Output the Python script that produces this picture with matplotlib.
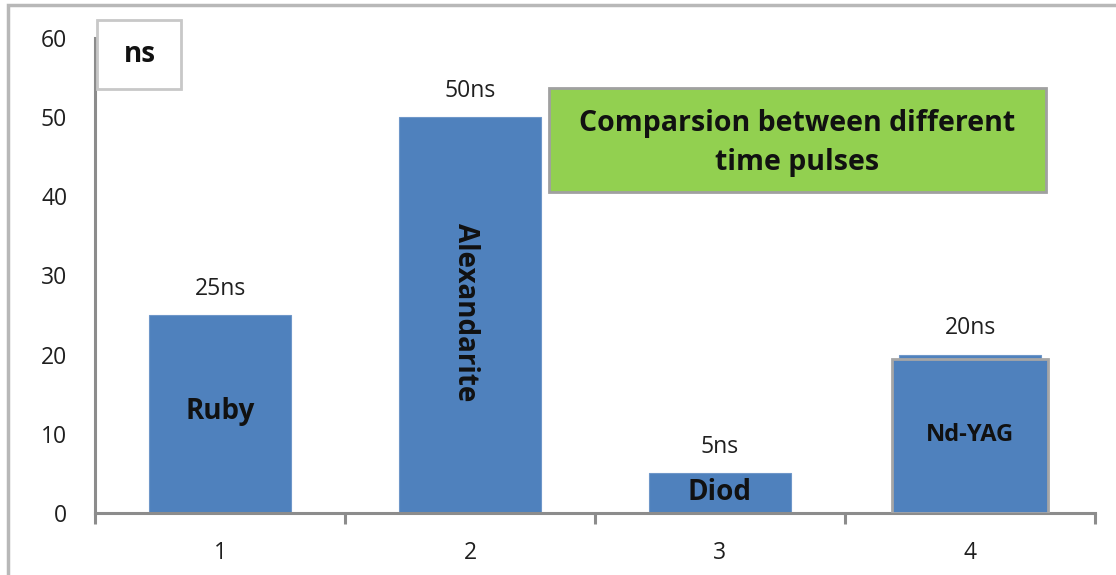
import matplotlib.pyplot as plt
from matplotlib.patches import Rectangle

# data
positions = [1, 2, 3, 4]
values = [25, 50, 5, 20]
value_labels = ['25ns', '50ns', '5ns', '20ns']
names = ['Ruby', 'Alexandarite', 'Diod', 'Nd-YAG']
yticks = [0, 10, 20, 30, 40, 50, 60]

plt.rcParams['font.family'] = ['Open Sans', 'DejaVu Sans']

W, H = 1116, 575
fig = plt.figure(figsize=(W / 100, H / 100), dpi=100)

# outer chart frame
fig.patches.append(Rectangle((8 / W, 0 - 0.1), 1.2, 1 - 5 / H + 0.1,
                             transform=fig.transFigure, fill=False,
                             edgecolor='#b8b8b8', linewidth=2.5))

ax = fig.add_axes([95 / W, (H - 513) / H, 1000 / W, (513 - 38) / H])
ax.bar(positions, values, width=0.57, color='#4f81bd', edgecolor='#6f97c9',
       linewidth=0.8, zorder=2)
ax.set_xlim(0.5, 4.5)
ax.set_ylim(0, 60)

for s in ['top', 'right']:
    ax.spines[s].set_visible(False)
for s in ['left', 'bottom']:
    ax.spines[s].set_color('#8c8c8c')
    ax.spines[s].set_linewidth(2.2)

ax.set_yticks(yticks)
ax.tick_params(axis='y', length=0, pad=20, labelsize=16.5, labelcolor='#1f1f1f')
ax.set_xticks([0.5, 1.5, 2.5, 3.5, 4.5])
ax.set_xticklabels([])
ax.tick_params(axis='x', which='major', length=8, width=2.2, color='#8c8c8c')
ax.set_xticks(positions, minor=True)
ax.set_xticklabels([str(p) for p in positions], minor=True)
ax.tick_params(axis='x', which='minor', length=0, pad=20, labelsize=16.5,
               labelcolor='#1f1f1f')

# value labels above bars
for x, v, lab in zip(positions, values, value_labels):
    ax.text(x, v + 1.8, lab, ha='center', va='bottom', fontsize=16.5,
            color='#1f1f1f')

# Nd-YAG overlay box
ax.add_patch(Rectangle((4 - 0.312, 0), 0.624, 19.5, facecolor='#4f81bd',
                       edgecolor='#a6a6a6', linewidth=2, zorder=3))

ax.text(1, 12.8, names[0], ha='center', va='center', fontsize=20,
        fontweight='bold', color='#111111', zorder=4)
ax.text(1.98, 25.4, names[1], ha='center', va='center', fontsize=20,
        fontweight='bold', color='#111111', rotation=-90, zorder=4)
ax.text(3, 2.6, names[2], ha='center', va='center', fontsize=20,
        fontweight='bold', color='#111111', zorder=4)
ax.text(4, 9.9, names[3], ha='center', va='center', fontsize=17,
        fontweight='bold', color='#111111', zorder=4)

# unit box
fig.patches.append(Rectangle((97 / W, (H - 89) / H), 84 / W, 69 / H,
                             transform=fig.transFigure, facecolor='white',
                             edgecolor='#c8c8c8', linewidth=2))
fig.text(140 / W, (H - 55) / H, 'ns', ha='center', va='center', fontsize=20,
         fontweight='bold', color='#111111')

# title box
fig.patches.append(Rectangle((549 / W, (H - 192) / H), 497 / W, 104 / H,
                             transform=fig.transFigure, facecolor='#92d050',
                             edgecolor='#a0a0a0', linewidth=2))
fig.text(797 / W, (H - 143) / H, 'Comparsion between different\ntime pulses',
         ha='center', va='center', fontsize=20.5, fontweight='bold',
         color='#111111', linespacing=1.45)

fig.savefig('out.png', dpi=100)
